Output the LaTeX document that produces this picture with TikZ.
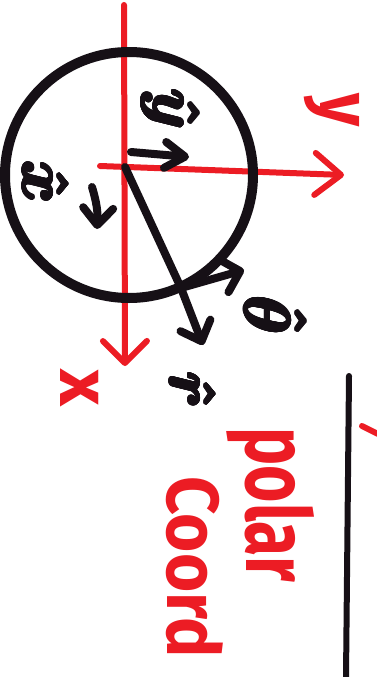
\documentclass[tikz,border=0pt]{standalone}
\usepackage{fontspec}
\setsansfont{Fira Sans}
\usepackage{contour}
\contourlength{1.3pt}
\contournumber{24}
\usetikzlibrary{arrows.meta}
\definecolor{penred}{RGB}{236,28,36}
\definecolor{penblack}{RGB}{22,16,22}
\newcommand{\bighat}[1]{\contour{penblack}{\scalebox{3.1}{\boldmath$\hat{#1}$}}}
\tikzset{
  redpen/.style={draw=penred, line width=6pt, line cap=round, line join=round},
  blackpen/.style={draw=penblack, line width=8pt, line cap=round, line join=round},
  redtext/.style={text=penred, inner sep=0pt, rotate=-90, font=\fontsize{#1}{#1}\selectfont\sffamily\bfseries},
  hatlabel/.style={text=penblack, inner sep=0pt, rotate=-90, font=\fontsize{20}{24}\selectfont},
}
\begin{document}
\begin{tikzpicture}[x=1pt,y=-1pt]
\useasboundingbox (0,0) rectangle (376,677);
\fill[white] (0,0) rectangle (376,677);
% key points
\coordinate (O) at (125,167);
\coordinate (C) at (129,175);
\coordinate (P) at (181,288);
\coordinate (xs) at (124,5);
\coordinate (xe) at (125,366);
\coordinate (ys) at (100,166);
\coordinate (ye) at (344,175);
% red axes
\draw[redpen, -{Straight Barb[length=22pt,width=44pt,round]}] (xs) -- (xe);
\draw[redpen, -{Straight Barb[length=26pt,width=42pt,round]}] (ys) -- (ye);
% circle and radius
\draw[blackpen, line width=10pt] (C) ellipse [x radius=124, y radius=123];
\draw[blackpen] (O) -- (P);
% unit vectors
\coordinate (yh1) at (131,152);
\coordinate (yh2) at (189,157);
\draw[blackpen, -{Straight Barb[length=20pt,width=26pt,round]}] (yh1) -- (yh2);
\coordinate (xh1) at (92,187);
\coordinate (xh2) at (97,229);
\draw[blackpen, -{Straight Barb[length=17pt,width=30pt,round]}] (xh1) to[bend left=10] (xh2);
\coordinate (rt) at (203,345);
\draw[blackpen, -{Straight Barb[length=17pt,width=32pt,round]}] (P) -- (rt);
\coordinate (tt) at (244,270);
\draw[blackpen, -{Straight Barb[length=17pt,width=34pt,round]}] (P) -- (tt);
% labels
\node[hatlabel] (yhat) at (170,109) {\bighat{y}};
\node[hatlabel] (xhat) at (45,182) {\bighat{x}};
\node[hatlabel] (thetahat) at (275,315) {\bighat{\theta}};
\node[hatlabel] (rhat) at (192,390) {\bighat{r}};
\node[redtext=72] (xlab) at (80,388) {x};
\node[redtext=64] (ylab) at (332,110) {\scalebox{1}[1.15]{y}};
\node[redtext=64] (polar) at (271,505) {\scalebox{1}[1.4]{polar}};
\node[redtext=64] (coord) at (195,567) {\scalebox{1.05}[1.15]{Coord}};
% right-hand line and cut-off marks
\coordinate (l1) at (349,376);
\coordinate (l2) at (346,677);
\draw[blackpen, line width=6pt] (l1) -- (l2);
\coordinate (m1) at (362,426);
\coordinate (m2) at (378,434);
\draw[redpen] (m1) -- (m2);
\end{tikzpicture}
\end{document}
